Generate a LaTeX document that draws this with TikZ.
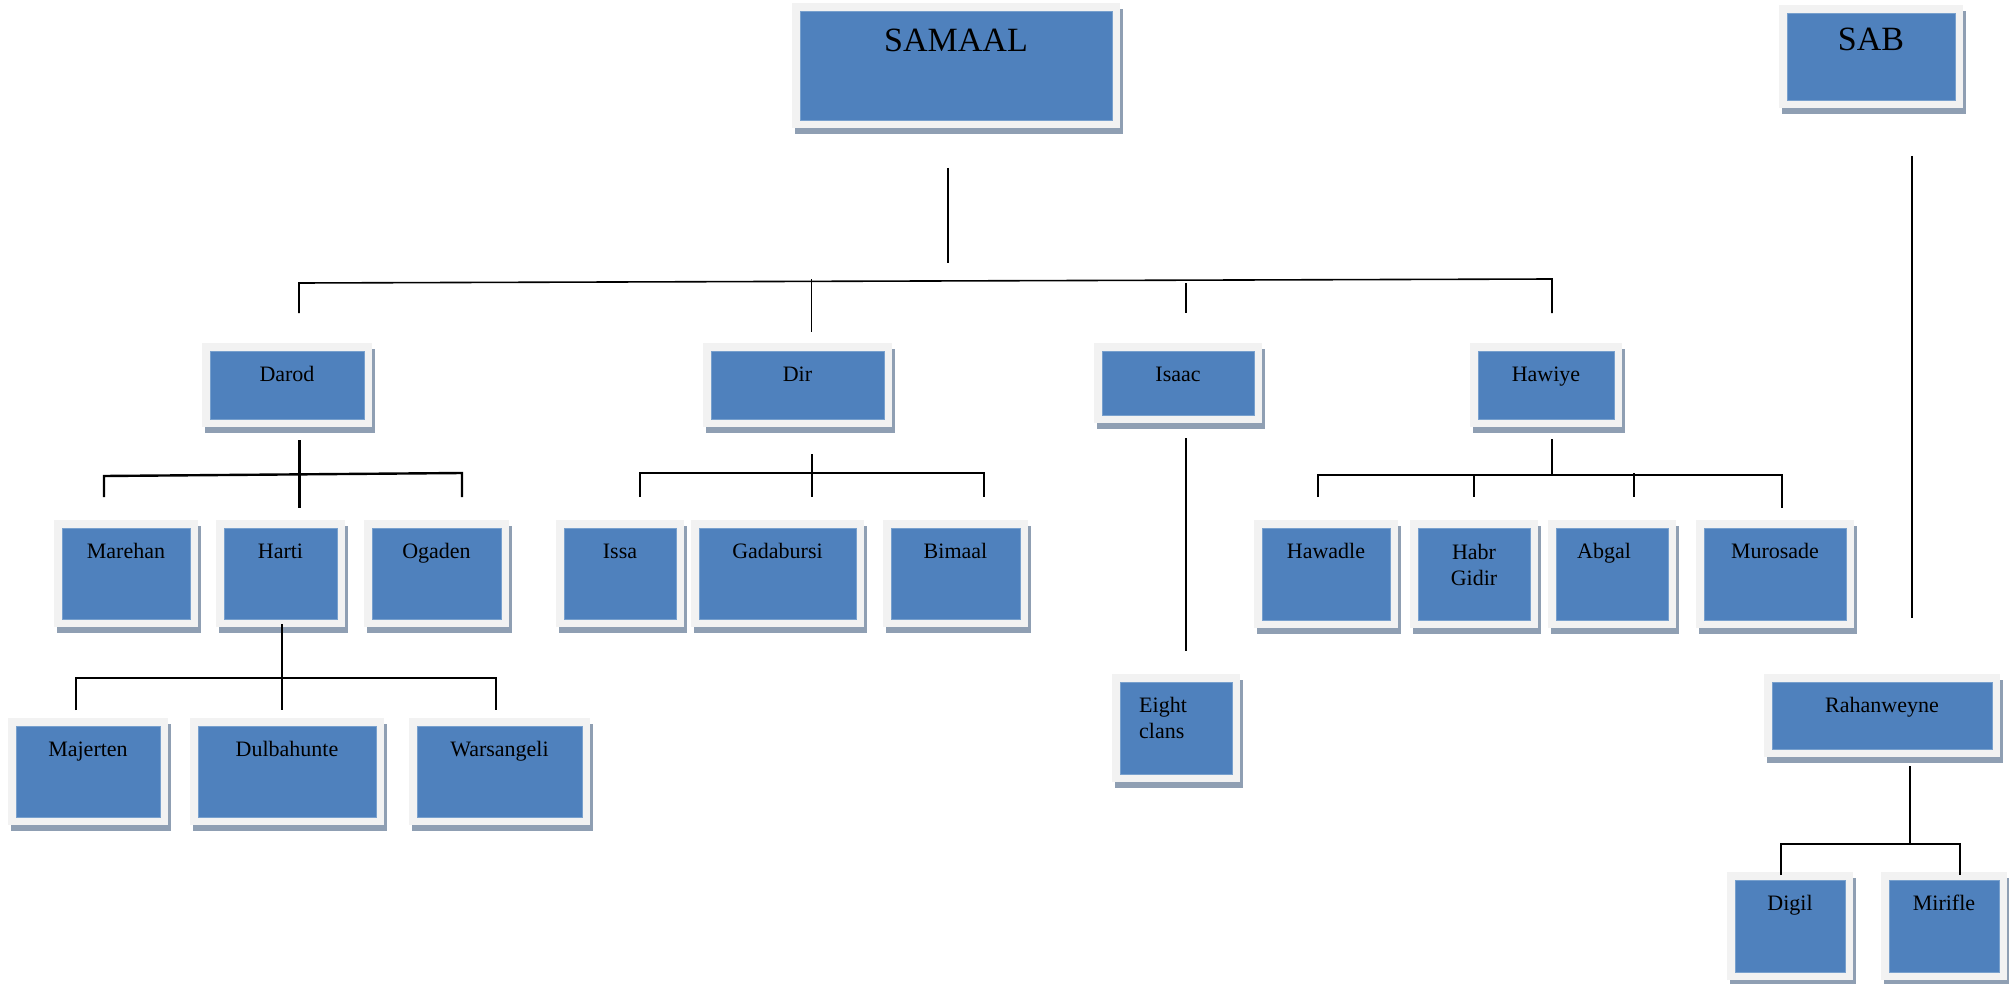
\documentclass[tikz,border=0pt]{standalone}
\usepackage{fontspec}
\setmainfont{Liberation Serif}
\definecolor{boxblue}{RGB}{79,129,189}
\definecolor{boxedge}{RGB}{120,160,205}
\definecolor{framec}{RGB}{242,242,242}
\definecolor{shadowc}{RGB}{143,159,179}
\tikzset{
 bluebox/.style={rectangle, fill=boxblue, draw=boxedge, line width=0.8pt, inner sep=0pt, outer sep=0pt},
 lab/.style={font=\fontsize{22}{26}\selectfont, inner sep=0pt, align=center, anchor=base},
 biglab/.style={font=\fontsize{34}{40}\selectfont, inner sep=0pt, anchor=base},
 thinline/.style={line width=1.6pt, black},
 thickline/.style={line width=2.4pt, black},
}
% [text style]{name}{x1}{y1}{x2}{y2}{baseline offset}{text}
\newcommand\clanbox[8][lab]{%
 \fill[shadowc] (#3+3,#4+6) rectangle (#5+3,#6+6);
 \fill[framec] (#3,#4) rectangle (#5,#6);
 \node[bluebox, minimum width={#5-#3-16}, minimum height={#6-#4-16}] (#2) at ({(#3+#5)/2},{(#4+#6)/2}) {};
 \node[#1] (#2-t) at ({(#3+#5)/2},#4+#7) {#8};
}
\begin{document}
\begin{tikzpicture}[x=1pt,y=-1pt]
\fill[white] (0,0) rectangle (2009,984);
\useasboundingbox (0,0) rectangle (2009,984);

% boxes
\clanbox[biglab]{samaal}{792}{3}{1120}{128}{49}{SAMAAL}
\clanbox[biglab]{sab}{1779}{5}{1963}{108}{46}{SAB}
\clanbox{darod}{202}{343}{372}{427}{38}{Darod}
\clanbox{dir}{703}{343}{892}{427}{38}{Dir}
\clanbox{isaac}{1094}{343}{1262}{423}{38}{Isaac}
\clanbox{hawiye}{1470}{343}{1622}{427}{38}{Hawiye}
\clanbox{marehan}{54}{520}{198}{627}{38}{Marehan}
\clanbox{harti}{216}{520}{345}{627}{38}{Harti}
\clanbox{ogaden}{364}{520}{509}{627}{38}{Ogaden}
\clanbox{issa}{556}{520}{684}{627}{38}{Issa}
\clanbox{gadabursi}{691}{520}{864}{627}{38}{Gadabursi}
\clanbox{bimaal}{883}{520}{1028}{627}{38}{Bimaal}
\clanbox{hawadle}{1254}{520}{1398}{628}{38}{Hawadle}
\clanbox{habrgidir}{1410}{520}{1538}{628}{65}{Habr\\Gidir}
\clanbox[lab,xshift=-8pt]{abgal}{1548}{520}{1676}{628}{38}{Abgal}
\clanbox{murosade}{1696}{520}{1854}{628}{38}{Murosade}
\clanbox{majerten}{8}{718}{168}{825}{38}{Majerten}
\clanbox{dulbahunte}{190}{718}{384}{825}{38}{Dulbahunte}
\clanbox{warsangeli}{409}{718}{590}{825}{38}{Warsangeli}
\clanbox[lab,align=left,anchor=base west,xshift=-37pt]{eight}{1112}{674}{1240}{782}{64}{Eight\\clans}
\clanbox{rahanweyne}{1764}{674}{2000}{757}{38}{Rahanweyne}
\clanbox{digil}{1727}{872}{1853}{980}{38}{Digil}
\clanbox{mirifle}{1881}{872}{2007}{980}{38}{Mirifle}

% connector points
\coordinate (s0) at (948,168);  \coordinate (s1) at (948,263);
\coordinate (hL) at (299,283);  \coordinate (hR) at (1552,279);
\coordinate (dA) at (299,313);
\coordinate (dirT) at (811.6,279); \coordinate (dirB) at (811.6,332);
\coordinate (isT) at (1186,283); \coordinate (isB) at (1186,313);
\coordinate (hwB) at (1552,313);
\coordinate (is0) at (1186,438); \coordinate (is1) at (1186,651);
\coordinate (sb0) at (1912,156); \coordinate (sb1) at (1912,618);

\coordinate (da0) at (299.5,440); \coordinate (da1) at (299.5,508);
\coordinate (daL) at (104,476); \coordinate (daR) at (462,473);
\coordinate (daLb) at (104,497); \coordinate (daRb) at (462,497);

\coordinate (di0) at (811.7,454); \coordinate (di1) at (811.7,497);
\coordinate (diL) at (640,473); \coordinate (diR) at (984,473);
\coordinate (diLb) at (640,497); \coordinate (diRb) at (984,497);

\coordinate (ha0) at (282,624); \coordinate (ha1) at (282,710);
\coordinate (haL) at (76,678); \coordinate (haR) at (496,678);
\coordinate (haLb) at (76,710); \coordinate (haRb) at (496,710);

\coordinate (hw0) at (1552,439); \coordinate (hw1) at (1552,475);
\coordinate (hwL) at (1318,475); \coordinate (hwR) at (1782,475);
\coordinate (hwLb) at (1318,497);
\coordinate (hw2t) at (1474,475); \coordinate (hw2b) at (1474,497);
\coordinate (hw3t) at (1634,473); \coordinate (hw3b) at (1634,497);
\coordinate (hwRb) at (1782,508);

\coordinate (ra0) at (1910,766); \coordinate (ra1) at (1910,844);
\coordinate (raL) at (1781,844); \coordinate (raR) at (1960,844);
\coordinate (raLb) at (1781,875); \coordinate (raRb) at (1960,875);

% upper connectors
\draw[thinline] (s0) -- (s1);
\draw[thinline] (dA) -- (hL) -- (hR) -- (hwB);
\draw[thinline] (dirT) -- (dirB);
\draw[thinline] (isT) -- (isB);
\draw[thinline] (is0) -- (is1);
\draw[thinline] (sb0) -- (sb1);

% lower connectors
\draw[thickline] (da0) -- (da1);
\draw[thickline] (daLb) -- (daL) -- (daR) -- (daRb);
\draw[thickline] (di0) -- (di1);
\draw[thickline] (diLb) -- (diL) -- (diR) -- (diRb);
\draw[thickline] (ha0) -- (ha1);
\draw[thickline] (haLb) -- (haL) -- (haR) -- (haRb);
\draw[thickline] (hw0) -- (hw1);
\draw[thickline] (hwLb) -- (hwL) -- (hwR) -- (hwRb);
\draw[thickline] (hw2t) -- (hw2b);
\draw[thickline] (hw3t) -- (hw3b);
\draw[thickline] (ra0) -- (ra1);
\draw[thickline] (raLb) -- (raL) -- (raR) -- (raRb);
\end{tikzpicture}
\end{document}
